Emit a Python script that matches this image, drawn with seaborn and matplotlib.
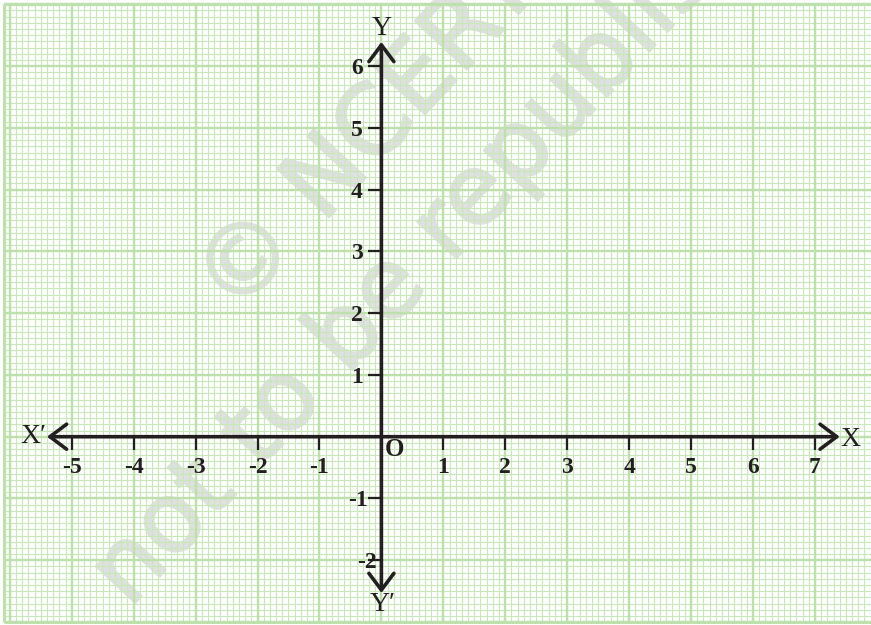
import numpy as np
import matplotlib
matplotlib.use("Agg")
import matplotlib.pyplot as plt
import matplotlib.patheffects as pe
import seaborn as sns

# tick values on each axis
x_ticks = [-5, -4, -3, -2, -1, 1, 2, 3, 4, 5, 6, 7]
y_ticks = [-2, -1, 1, 2, 3, 4, 5, 6]
x_labels = ["-5", "-4", "-3", "-2", "-1", "1", "2", "3", "4", "5", "6", "7"]
y_labels = ["-2", "-1", "1", "2", "3", "4", "5", "6"]

# extent of the drawn axes (arrow tips)
x_axis_span = [-5.40, 7.40]
y_axis_span = [-2.53, 6.39]

# graph paper extent
paper_x = [-6.1, 8.0]
paper_y = [-3.0, 7.0]

sns.set_theme(style="white")
serif = ["Liberation Serif", "DejaVu Serif"]

fig, ax = plt.subplots(figsize=(8.71, 6.25), dpi=100)
ax.set_position([0, 0, 1, 1])
ax.set_xlim(-6.158, 7.905)
ax.set_ylim(-3.048, 7.069)
ax.axis("off")

# graph paper
minor_col = "#c8e8ba"
major_col = "#bde0ac"
xs = np.round(np.arange(paper_x[0], paper_x[1] + 0.001, 0.1), 2)
ys = np.round(np.arange(paper_y[0], paper_y[1] + 0.001, 0.1), 2)
ax.vlines(xs, paper_y[0], paper_y[1], color=minor_col, lw=0.8, zorder=1)
ax.hlines(ys, paper_x[0], paper_x[1], color=minor_col, lw=0.8, zorder=1)
xm = [v for v in xs if abs(v - round(v)) < 1e-6]
ym = [v for v in ys if abs(v - round(v)) < 1e-6]
ax.vlines(xm, paper_y[0], paper_y[1], color=major_col, lw=1.7, zorder=1)
ax.hlines(ym, paper_x[0], paper_x[1], color=major_col, lw=1.7, zorder=1)
ax.vlines([paper_x[0]], paper_y[0], paper_y[1], color=major_col, lw=2.2, zorder=1)
ax.hlines([paper_y[0], paper_y[1]], paper_x[0], paper_x[1], color=major_col, lw=2.2, zorder=1)

# watermark, under the grid
wm_col = "#e0e0e0"
wm = dict(color=wm_col, fontsize=70, fontweight="normal",
          family="DejaVu Sans", rotation=47, rotation_mode="anchor",
          ha="center", va="center", zorder=0.5,
          path_effects=[pe.Stroke(linewidth=1.8, foreground=wm_col), pe.Normal()])
ax.text(0.424, 0.784, "© NCERT", transform=ax.transAxes, **wm)
ax.text(0.534, 0.664, "not to be republished", transform=ax.transAxes, **wm)

# axes with arrows
ink = "#231f20"
arrow = dict(arrowstyle="<->, head_length=0.6, head_width=0.45", color=ink,
             lw=2.6, mutation_scale=20, shrinkA=0, shrinkB=0)
ax.annotate("", xy=(x_axis_span[1], 0), xytext=(x_axis_span[0], 0),
            arrowprops=arrow, zorder=5)
ax.annotate("", xy=(0, y_axis_span[1]), xytext=(0, y_axis_span[0]),
            arrowprops=arrow, zorder=5)

# tick marks
ax.vlines(x_ticks, -0.21, 0, color=ink, lw=1.6, zorder=5)
ax.hlines(y_ticks, -0.21, 0, color=ink, lw=1.6, zorder=5)

# tick labels
for v, s in zip(x_ticks, x_labels):
    ax.text(v, -0.5, s, ha="center", va="center", fontsize=17,
            fontweight="bold", family=serif, color=ink, zorder=6)
for v, s in zip(y_ticks, y_labels):
    off = -0.3 if v > 0 else (-0.22 if v == -1 else -0.07)
    ax.text(off, v - 0.04, s, ha="right", va="center", fontsize=17,
            fontweight="bold", family=serif, color=ink, zorder=6)
ax.text(0.21, -0.21, "O", ha="center", va="center", fontsize=18,
        fontweight="bold", family=serif, color=ink, zorder=6)

# axis names
ax.text(-5.62, 0.0, "X\u2032", ha="center", va="center", fontsize=20, family=serif, color=ink, zorder=6)
ax.text(7.58, -0.05, "X", ha="center", va="center", fontsize=20, family=serif, color=ink, zorder=6)
ax.text(0.0, 6.60, "Y", ha="center", va="center", fontsize=20, family=serif, color=ink, zorder=6)
ax.text(0.02, -2.71, "Y\u2032", ha="center", va="center", fontsize=20, family=serif, color=ink, zorder=6)

fig.savefig("out.png", dpi=100, facecolor="white")
